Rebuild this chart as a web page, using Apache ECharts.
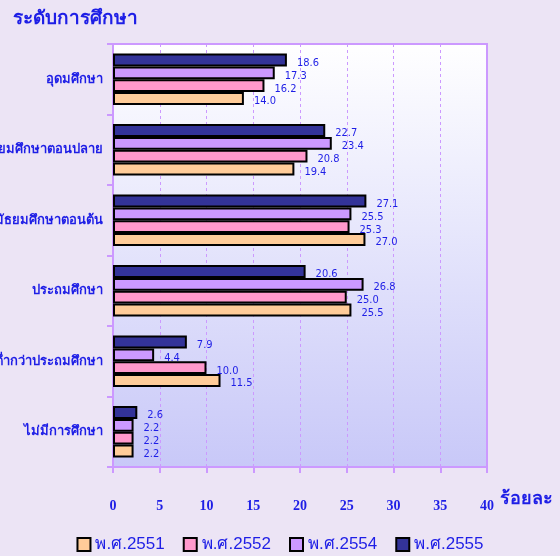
<!DOCTYPE html>
<html>
<head>
<meta charset="utf-8">
<script src="https://cdn.jsdelivr.net/npm/echarts@6/dist/echarts.min.js"></script>
<style>
  html, body { margin: 0; padding: 0; background: #ECE4F5; }
  #chart { width: 560px; height: 556px; }
</style>
</head>
<body>
<div id="chart"></div>
<script>
// ระดับการศึกษา (บนลงล่าง)
var categories = ['อุดมศึกษา', 'มัธยมศึกษาตอนปลาย', 'มัธยมศึกษาตอนต้น', 'ประถมศึกษา', 'ต่ำกว่าประถมศึกษา', 'ไม่มีการศึกษา'];
var years = ['พ.ศ.2551', 'พ.ศ.2552', 'พ.ศ.2554', 'พ.ศ.2555'];
var v2551 = [14.0, 19.4, 27.0, 25.5, 11.5, 2.2];
var v2552 = [16.2, 20.8, 25.3, 25.0, 10.0, 2.2];
var v2554 = [17.3, 23.4, 25.5, 26.8, 4.4, 2.2];
var v2555 = [18.6, 22.7, 27.1, 20.6, 7.9, 2.6];
var xTicks = [0, 5, 10, 15, 20, 25, 30, 35, 40];

var blue = '#1E1EE6';
var colors = { 'พ.ศ.2551': '#FFCC99', 'พ.ศ.2552': '#FF99CC', 'พ.ศ.2554': '#CC99FF', 'พ.ศ.2555': '#333399' };

function makeSeries(name, data) {
  return {
    name: name,
    type: 'bar',
    data: data,
    barGap: '0%',
    barCategoryGap: '27%',
    itemStyle: { color: colors[name], borderColor: '#000', borderWidth: 2 },
    label: {
      show: true,
      position: 'right',
      distance: 8,
      offset: [2, 3],
      color: blue,
      fontSize: 11,
      fontFamily: 'DejaVu Sans Condensed',
      formatter: function (p) { return p.value.toFixed(1); }
    }
  };
}

var myChart = echarts.init(document.getElementById('chart'));
var option = {
  backgroundColor: '#ECE4F5',
  animation: false,
  title: {
    text: 'ระดับการศึกษา',
    left: 8,
    top: 4,
    textStyle: { color: blue, fontSize: 19, fontWeight: 'bold' }
  },
  legend: {
    data: years,
    bottom: -2,
    left: 'center',
    icon: 'rect',
    itemWidth: 13,
    itemHeight: 13,
    itemGap: 18,
    itemStyle: { borderColor: '#000', borderWidth: 2 },
    textStyle: { color: blue, fontSize: 17 }
  },
  grid: {
    left: 113,
    right: 73,
    top: 44,
    bottom: 89,
    outerBoundsMode: 'none',
    show: true,
    borderColor: '#CC99FF',
    borderWidth: 2,
    backgroundColor: {
      type: 'linear', x: 0, y: 0, x2: 0, y2: 1,
      colorStops: [{ offset: 0, color: '#FFFFFF' }, { offset: 1, color: '#C8C8F8' }]
    }
  },
  xAxis: {
    type: 'value',
    min: xTicks[0],
    max: xTicks[xTicks.length - 1],
    interval: 5,
    axisLine: { show: true, lineStyle: { color: '#CC99FF', width: 2 } },
    axisTick: { show: true, length: 6, lineStyle: { color: '#CC99FF', width: 2 } },
    axisLabel: {
      margin: 32,
      color: blue,
      fontFamily: 'Liberation Serif',
      fontWeight: 'bold',
      fontSize: 14
    },
    splitLine: { show: true, lineStyle: { color: '#CC99FF', type: [3, 3], width: 1 } }
  },
  yAxis: {
    type: 'category',
    inverse: true,
    data: categories,
    axisLine: { show: true, lineStyle: { color: '#CC99FF', width: 2 } },
    axisTick: { show: true, length: 6, lineStyle: { color: '#CC99FF', width: 2 } },
    axisLabel: { margin: 10, color: blue, fontSize: 13, fontWeight: 'bold' }
  },
  graphic: [{
    type: 'text',
    left: 500,
    top: 490,
    style: { text: 'ร้อยละ', fill: blue, font: 'bold 18px sans-serif' }
  }],
  series: [
    makeSeries('พ.ศ.2555', v2555),
    makeSeries('พ.ศ.2554', v2554),
    makeSeries('พ.ศ.2552', v2552),
    makeSeries('พ.ศ.2551', v2551)
  ]
};
option && myChart.setOption(option);
</script>
</body>
</html>
